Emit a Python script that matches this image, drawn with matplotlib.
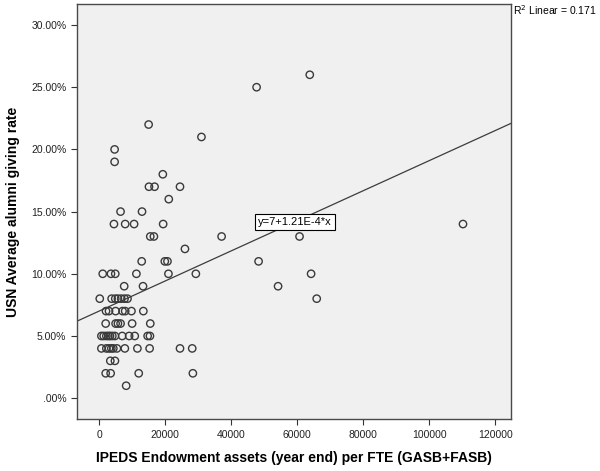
import matplotlib
matplotlib.use("Agg")
import matplotlib.pyplot as plt
import numpy as np

plt.rcParams["font.family"] = ["Liberation Sans", "DejaVu Sans"]

# endowment per FTE (x) and alumni giving rate in percent (y)
endowment = [
    15000, 4700, 4700, 19300, 15100, 16800, 24500, 21100, 6500, 13000,
    4500, 7900, 10600, 19400, 15500, 16600, 26000, 12900, 19900, 20700,
    1100, 3600, 4900, 11300, 21000, 29300, 7600, 13300,
    200, 3800, 4900, 5700, 6700, 7700, 8600,
    2100, 3000, 5000, 7100, 7900, 9800, 13400,
    2000, 5000, 5700, 6500, 10000, 15500,
    700, 1400, 2200, 2800, 3300, 4000, 4800, 7000, 9100, 10800, 14700, 15400,
    700, 2200, 3000, 3700, 4300, 5400, 7800, 11600, 15300, 24500, 28200,
    3400, 4800,
    2000, 3500, 12000, 28400,
    8200,
    63800, 47700, 110200, 60700, 48300, 64200, 54200, 65900, 37100, 31000,
]
giving_rate = [
    22, 20, 19, 18, 17, 17, 17, 16, 15, 15,
    14, 14, 14, 14, 13, 13, 12, 11, 11, 11,
    10, 10, 10, 10, 10, 10, 9, 9,
    8, 8, 8, 8, 8, 8, 8,
    7, 7, 7, 7, 7, 7, 7,
    6, 6, 6, 6, 6, 6,
    5, 5, 5, 5, 5, 5, 5, 5, 5, 5, 5, 5,
    4, 4, 4, 4, 4, 4, 4, 4, 4, 4, 4,
    3, 3,
    2, 2, 2, 2,
    1,
    26, 25, 14, 13, 11, 10, 9, 8, 13, 21,
]

intercept = 7
slope = 1.21e-4
r_squared = 0.171

x_ticks = [0, 20000, 40000, 60000, 80000, 100000, 120000]
y_ticks = [0, 5, 10, 15, 20, 25, 30]

fig = plt.figure(figsize=(6.0, 4.71), dpi=100)
ax = fig.add_axes([0.128, 0.110, 0.724, 0.8815])
ax.set_facecolor("#f0f0f0")

ax.set_xlim(-6750, 124800)
ax.set_ylim(-1.69, 31.69)

ax.scatter(endowment, giving_rate, s=28, facecolors="none",
           edgecolors="#3a3a3a", linewidths=1.0, zorder=3)

# fit line across the full x range
xl = np.array(ax.get_xlim())
ax.plot(xl, intercept + slope * xl, color="#3c3c3c", linewidth=0.9, zorder=2)

ax.text(59300, 14.17, "y=7+1.21E-4*x", fontsize=8, ha="center", va="center",
        zorder=4, bbox=dict(boxstyle="square,pad=0.25", facecolor="white",
                            edgecolor="black", linewidth=0.8))

fig.text(0.855, 0.978, "R$^2$ Linear = %.3f" % r_squared, fontsize=7.5,
         ha="left", va="center")

ax.set_xticks(x_ticks)
ax.set_xticklabels([str(v) for v in x_ticks])
ax.set_yticks(y_ticks)
ax.set_yticklabels([".00%" if v == 0 else "%.2f%%" % v for v in y_ticks])
ax.tick_params(labelsize=7.5, length=4, width=0.8, color="#333333",
               labelcolor="#222222", direction="out")

for side in ["left", "bottom", "right", "top"]:
    ax.spines[side].set_color("#4a4a4a")
    ax.spines[side].set_linewidth(1.0)

ax.set_xlabel("IPEDS Endowment assets (year end) per FTE (GASB+FASB)",
              fontsize=10, fontweight="bold", labelpad=8)
ax.set_ylabel("USN Average alumni giving rate", fontsize=10,
              fontweight="bold", labelpad=8)

fig.savefig("out.png", dpi=100, facecolor="white")
